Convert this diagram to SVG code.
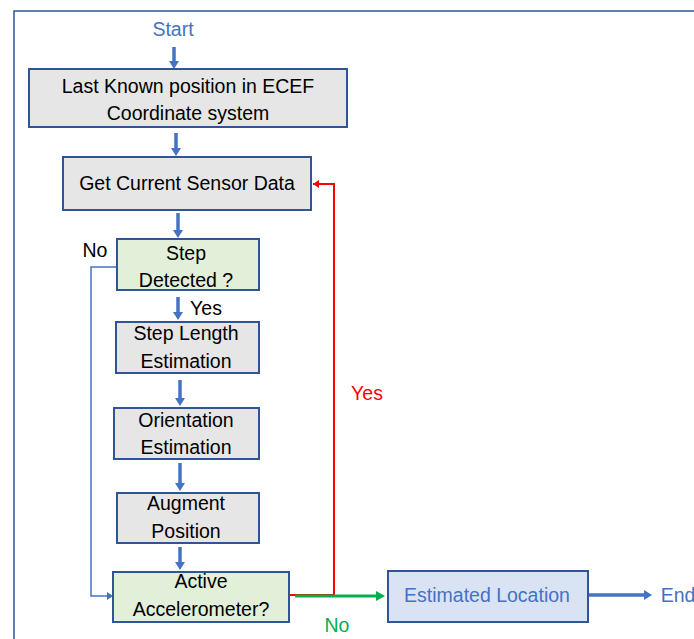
<svg xmlns="http://www.w3.org/2000/svg" width="694" height="639" viewBox="0 0 694 639">
<style>
text{font-family:"Liberation Sans",Arial,sans-serif;font-size:19.5px;text-anchor:middle}
.box{stroke:#2F5597;stroke-width:2}
.g{fill:#E6E6E6}.gr{fill:#E2EFD9}.bl{fill:#DAE3F3}
.t{fill:#000}.b{fill:#4472C4}
.main{stroke:#4472C4;stroke-width:3.5;fill:none}
</style>
<defs>
<marker id="ab" viewBox="0 0 8 10" refX="0" refY="5" markerWidth="8" markerHeight="10" markerUnits="userSpaceOnUse" orient="auto"><path d="M0,0L8,5L0,10z" fill="#4472C4"/></marker>
<marker id="abs" viewBox="0 0 6 8" refX="6" refY="4" markerWidth="6" markerHeight="8" markerUnits="userSpaceOnUse" orient="auto"><path d="M0,0L6,4L0,8z" fill="#4472C4"/></marker>
<marker id="ar" viewBox="0 0 6 8" refX="6" refY="4" markerWidth="6" markerHeight="8" markerUnits="userSpaceOnUse" orient="auto"><path d="M0,0L6,4L0,8z" fill="#FF0000"/></marker>
<marker id="ag" viewBox="0 0 9 10" refX="0" refY="5" markerWidth="9" markerHeight="10" markerUnits="userSpaceOnUse" orient="auto"><path d="M0,0L9,5L0,10z" fill="#00B050"/></marker>
</defs>
<rect x="14" y="11" width="720" height="680" fill="none" stroke="#2F5597" stroke-width="1.5"/>
<text class="b" x="173" y="36">Start</text>
<g id="connectors">
<line class="main" x1="174" y1="47" x2="174" y2="61" marker-end="url(#ab)"/>
<line class="main" x1="176" y1="133" x2="176" y2="148" marker-end="url(#ab)"/>
<line class="main" x1="178" y1="213" x2="178" y2="230" marker-end="url(#ab)"/>
<line class="main" x1="178" y1="297" x2="178" y2="312" marker-end="url(#ab)"/>
<line class="main" x1="180" y1="380" x2="180" y2="398" marker-end="url(#ab)"/>
<line class="main" x1="180" y1="463" x2="180" y2="483" marker-end="url(#ab)"/>
<line class="main" x1="180" y1="547" x2="180" y2="562" marker-end="url(#ab)"/>
<line class="main" x1="589" y1="595" x2="644" y2="595" marker-end="url(#ab)"/>
<path d="M117,267H91V596H113" fill="none" stroke="#4472C4" stroke-width="1.5" marker-end="url(#abs)"/>
<path d="M289,595H334V184H313" fill="none" stroke="#FF0000" stroke-width="2" marker-end="url(#ar)"/>
<line x1="295" y1="596" x2="376" y2="596" stroke="#00B050" stroke-width="3" marker-end="url(#ag)"/>
<text class="t" x="95" y="257">No</text>
<text class="t" x="206" y="315">Yes</text>
<text x="367" y="400" fill="#FF0000">Yes</text>
<text x="337" y="632" fill="#00B050">No</text>
</g>
<g id="n1"><rect class="box g" x="29" y="69" width="318" height="58"/>
<text class="t" x="188" y="93">Last Known position in ECEF</text>
<text class="t" x="188" y="120">Coordinate system</text></g>
<g id="n2"><rect class="box g" x="63" y="157" width="248" height="53"/>
<text class="t" x="187" y="190">Get Current Sensor Data</text></g>
<g id="n3"><rect class="box gr" x="117" y="239" width="142" height="51"/>
<text class="t" x="186" y="260">Step</text>
<text class="t" x="186" y="287">Detected ?</text></g>
<g id="n4"><rect class="box g" x="116" y="322" width="143" height="51"/>
<text class="t" x="186" y="340">Step Length</text>
<text class="t" x="186" y="368">Estimation</text></g>
<g id="n5"><rect class="box g" x="114" y="408" width="145" height="51"/>
<text class="t" x="186" y="427">Orientation</text>
<text class="t" x="186" y="454">Estimation</text></g>
<g id="n6"><rect class="box g" x="117" y="493" width="142" height="50"/>
<text class="t" x="186" y="510">Augment</text>
<text class="t" x="186" y="538">Position</text></g>
<g id="n7"><rect class="box gr" x="113" y="572" width="176" height="50"/>
<text class="t" x="201" y="588">Active</text>
<text class="t" x="201" y="616">Accelerometer?</text></g>
<g id="n8"><rect class="box bl" x="388" y="571" width="200" height="51"/>
<text class="b" x="487" y="602">Estimated Location</text></g>
<text class="b" x="678" y="602">End</text>
</svg>
